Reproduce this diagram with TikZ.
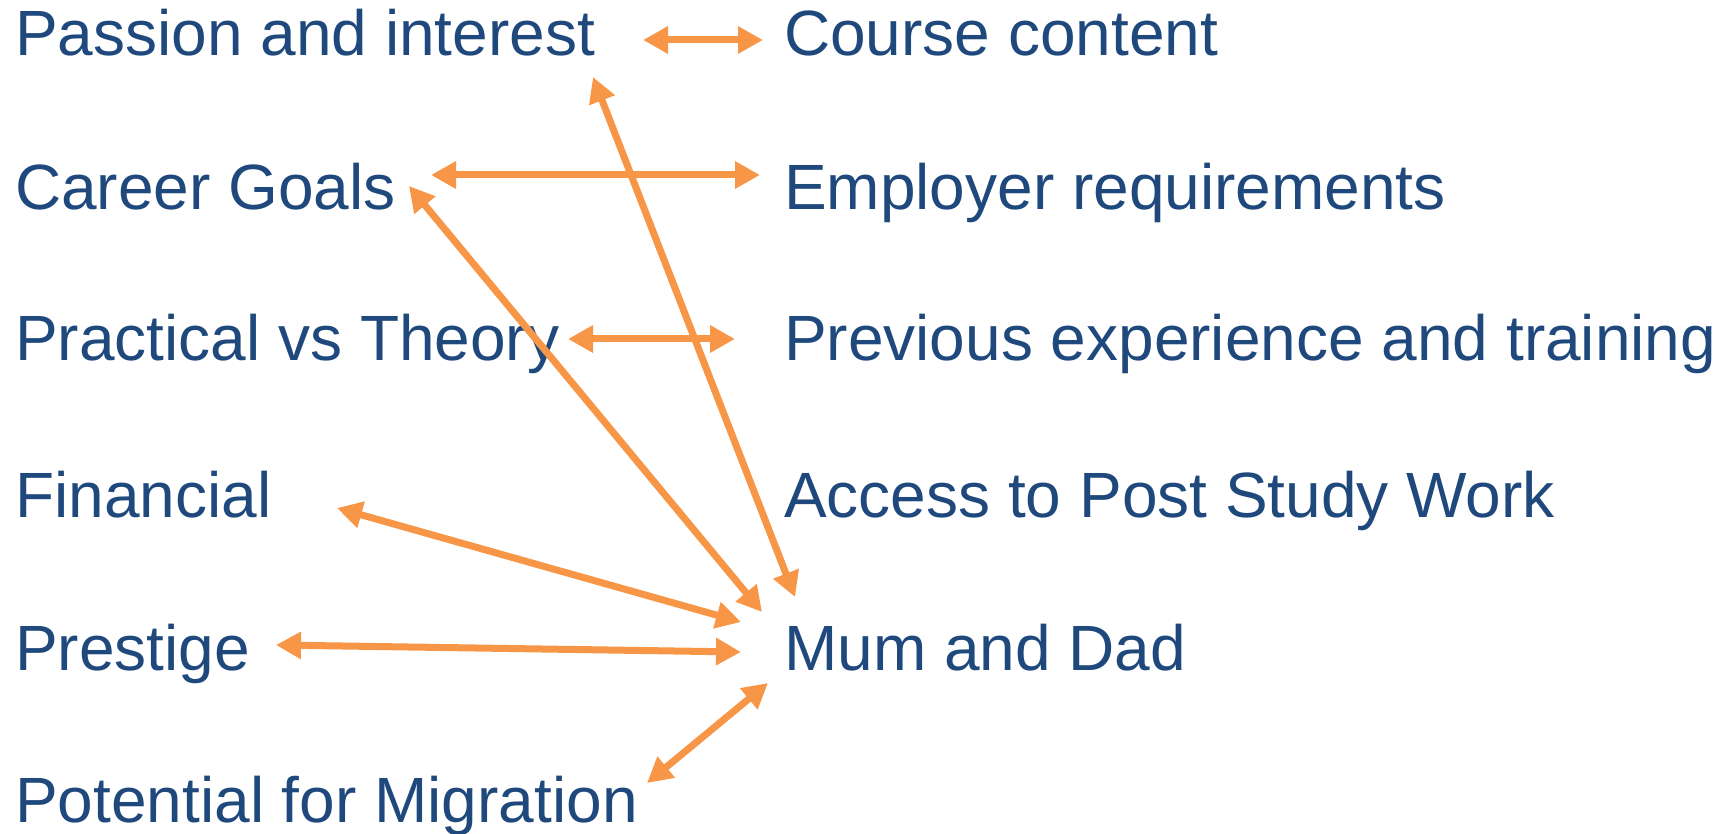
\documentclass[tikz,border=0pt]{standalone}
\usepackage{fontspec}
\setmainfont{Liberation Sans}
\usetikzlibrary{arrows.meta}
\definecolor{txtblue}{HTML}{1F497D}
\definecolor{linkorange}{HTML}{F79646}
\tikzset{
	item/.style={anchor=base west, inner sep=0pt, text=txtblue, font=\fontsize{64}{70}\selectfont},
	link/.style={draw=linkorange, line width=7pt, {Triangle[length=25pt,width=26pt]}-{Triangle[length=25pt,width=26pt]}}
}
\begin{document}
\begin{tikzpicture}[x=1pt,y=-1pt]
		\useasboundingbox (0,0) rectangle (1733,834);
		
		\node[item] (pass) at (15,56) {Passion and interest};
		\node[item] (career) at (15,210) {Career Goals};
		\node[item] (prac) at (15,361) {Practical vs Theory};
		\node[item] (fin) at (15,517) {Financial};
		\node[item] (pres) at (15,670) {Prestige};
		\node[item] (pot) at (15,822) {Potential for Migration};
		
		\node[item] (course) at (784,56) {Course content};
		\node[item] (employ) at (784,210) {Employer requirements};
		\node[item] (prev) at (784,361) {Previous experience and training};
		\node[item] (access) at (784,517) {Access to Post Study Work};
		\node[item] (mum) at (784,670) {Mum and Dad};
		
		\draw[link] ([xshift=628pt,yshift=16pt]pass.base west) -- ([xshift=-21pt,yshift=16pt]course.base west);
		\draw[link] ([xshift=416pt,yshift=35pt]career.base west) -- ([xshift=-24pt,yshift=35pt]employ.base west);
		\draw[link] ([xshift=553pt,yshift=22pt]prac.base west) -- ([xshift=-49pt,yshift=22pt]prev.base west);
		
		\draw[link] ([xshift=578pt,yshift=-21pt]pass.base west) -- ([xshift=11pt,yshift=73pt]mum.base west);
		\draw[link] ([xshift=394pt,yshift=24pt]career.base west) -- ([xshift=-22pt,yshift=58pt]mum.base west);
		\draw[link] ([xshift=322pt,yshift=9pt]fin.base west) -- ([xshift=-43pt,yshift=48pt]mum.base west);
		\draw[link] ([xshift=261pt,yshift=25pt]pres.base west) -- ([xshift=-43pt,yshift=18pt]mum.base west);
		\draw[link] ([xshift=632pt,yshift=39pt]pot.base west) -- ([xshift=-16pt,yshift=-13pt]mum.base west);
\end{tikzpicture}
\end{document}
